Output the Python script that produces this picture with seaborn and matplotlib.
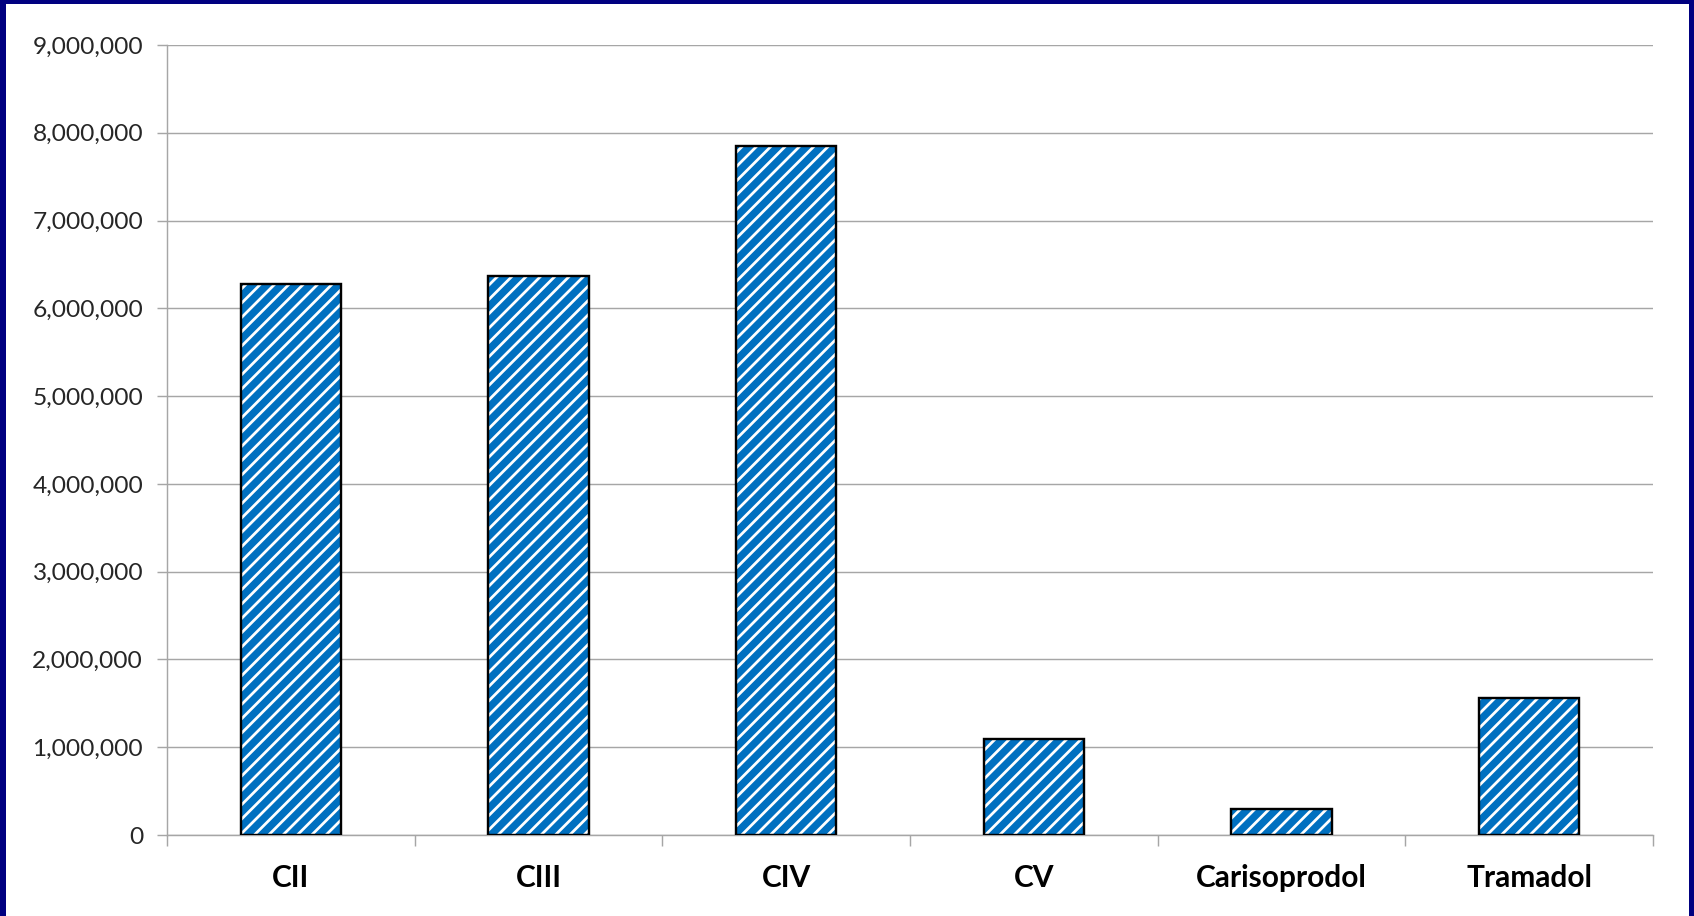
import pandas as pd
import matplotlib.pyplot as plt
import matplotlib.ticker as mticker
from matplotlib.patches import Rectangle
import seaborn as sns

# Chart data
categories = ['CII', 'CIII', 'CIV', 'CV', 'Carisoprodol', 'Tramadol']
values = [6280000, 6370000, 7850000, 1090000, 300000, 1560000]
y_ticks = [0, 1000000, 2000000, 3000000, 4000000, 5000000, 6000000, 7000000, 8000000, 9000000]

df = pd.DataFrame({'category': categories, 'value': values})

sns.set_style('white')
plt.rcParams['font.family'] = ['Lato', 'DejaVu Sans']
plt.rcParams['hatch.linewidth'] = 2.3

DPI = 86
W, H = 1694, 916
fig = plt.figure(figsize=(W / DPI, H / DPI), dpi=DPI)
fig.patch.set_facecolor('#000080')
# white slide area inside the navy frame
fig.patches.append(Rectangle((6 / W, 0), (1689 - 6) / W, (912) / H,
                             transform=fig.transFigure, facecolor='white',
                             edgecolor='none', zorder=-5))

ax = fig.add_axes([167 / W, (H - 835) / H, (1653 - 167) / W, (835 - 45) / H])
ax.set_facecolor('none')

# hatched fill
sns.barplot(data=df, x='category', y='value', ax=ax, color='#0070C0',
            saturation=1, width=0.405, hatch='//', edgecolor='white',
            linewidth=0, zorder=3)
# black outlines
sns.barplot(data=df, x='category', y='value', ax=ax, fill=False,
            width=0.405, edgecolor='black', linewidth=2.0, zorder=4)

ax.set_xlim(-0.5, len(categories) - 0.5)
ax.set_ylim(0, 9000000)
ax.set_yticks(y_ticks)
ax.yaxis.set_major_formatter(mticker.FuncFormatter(lambda v, p: f'{int(v):,}'))
ax.set_xlabel('')
ax.set_ylabel('')

gray = '#A6A6A6'
ax.grid(axis='y', color=gray, linewidth=1.2, zorder=0)
ax.set_axisbelow(True)
for side in ['top', 'right']:
    ax.spines[side].set_visible(False)
for side in ['left', 'bottom']:
    ax.spines[side].set_color(gray)
    ax.spines[side].set_linewidth(1.2)

ax.tick_params(axis='y', direction='out', length=8, width=1.2, color=gray,
               left=True, labelsize=20.5, labelcolor='#262626', pad=12)
ax.tick_params(axis='x', which='major', length=0, labelsize=25,
               pad=24)
ax.set_xticks([i - 0.5 for i in range(len(categories) + 1)], minor=True)
ax.tick_params(axis='x', which='minor', direction='out', length=9,
               width=1.2, color=gray, bottom=True)
for lbl in ax.get_xticklabels():
    lbl.set_fontweight('bold')
    lbl.set_color('black')

fig.savefig('out.png', dpi=DPI, facecolor=fig.get_facecolor())
